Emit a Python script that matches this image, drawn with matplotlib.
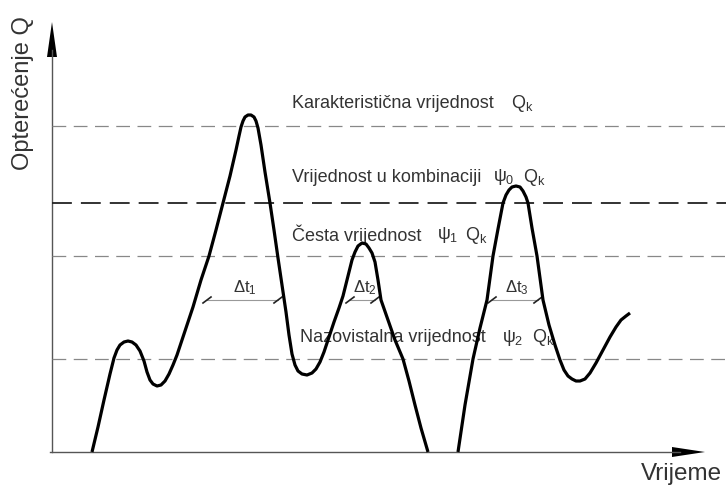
import matplotlib
matplotlib.use('Agg')
import matplotlib.pyplot as plt

plt.rcParams['font.family'] = ['Liberation Sans', 'DejaVu Sans']
plt.rcParams['mathtext.fontset'] = 'custom'
plt.rcParams['mathtext.rm'] = 'Liberation Sans'
plt.rcParams['mathtext.it'] = 'Liberation Sans'
plt.rcParams['mathtext.bf'] = 'Liberation Sans:bold'

# load history Q(t) (pixel units, y grows downward)
# first part: from the time axis up to where it dips below it again
part1_x = [92, 98, 104, 110, 114, 117, 120, 124, 128, 132, 136, 140, 144, 147, 150,
           153, 157, 161, 165, 169, 173, 177, 184, 193, 201, 209, 216, 223, 230,
           236, 239, 241, 243, 245, 248, 251, 254, 256, 258, 261, 265, 270, 274,
           278, 282, 286, 289, 292, 295, 298, 302, 307, 312, 316, 320, 324, 329,
           334, 339, 343, 346, 349, 352, 355, 358, 362, 366, 369, 372, 375, 378,
           381, 388, 395, 403, 409, 415, 421, 428]
part1_y = [452, 427, 400, 374, 358, 350, 345, 342, 341, 342, 345, 351, 361, 372, 380,
           384, 386, 385, 381, 374, 365, 355, 334, 307, 280, 256, 230, 203, 176,
           150, 136, 127, 121, 117, 115, 115, 117, 121, 128, 145, 172, 203, 230,
           258, 285, 312, 335, 354, 365, 371, 374, 375, 373, 369, 362, 352, 337,
           322, 308, 296, 284, 272, 260, 252, 246, 243, 244, 248, 253, 262, 280,
           300, 320, 340, 359, 381, 405, 428, 452]
# second part: re-enters above the axis
part2_x = [458, 465, 473, 480, 487, 493, 498, 503, 506, 509, 512, 516, 520, 523, 526,
           528, 532, 537, 543, 549, 555, 560, 564, 568, 572, 576, 580, 585, 590,
           596, 603, 610, 616, 621, 626, 630]
part2_y = [452, 405, 359, 328, 300, 256, 229, 203, 195, 190, 187, 186, 187, 191, 197,
           203, 228, 256, 300, 325, 345, 360, 370, 376, 379, 381, 381, 379, 373,
           363, 350, 337, 327, 320, 316, 313]

# reference levels
level_y = [126, 203, 256, 359]
level_name = ['Karakteristična vrijednost', 'Vrijednost u kombinaciji',
              'Česta vrijednost', 'Nazovistalna vrijednost']
level_psi = ['', r'$\psi_0$', r'$\psi_1$', r'$\psi_2$']

# durations Delta t (left end, right end) at the same height
dt_left = [207, 350, 492]
dt_right = [278, 375, 538]
dt_label = [r'$\Delta\mathrm{t}_1$', r'$\Delta\mathrm{t}_2$', r'$\Delta\mathrm{t}_3$']

fig = plt.figure(figsize=(7.26, 4.91), dpi=100)
ax = fig.add_axes([0, 0, 1, 1])
ax.set_xlim(0, 726)
ax.set_ylim(491, 0)
ax.axis('off')

# axes with arrows
ax.plot([52, 52], [452, 50], color='#555555', lw=1.0)
ax.plot([50, 680], [452, 452], color='#555555', lw=1.0)
ax.fill([47, 57, 52], [57, 57, 22], color='black', lw=0)
ax.fill([672, 672, 705], [447, 457, 452], color='black', lw=0)

# dashed levels
for i, y in enumerate(level_y):
    if i == 1:
        ax.plot([52, 726], [y, y], color='#222222', lw=1.3, dashes=(11, 5))
    else:
        ax.plot([52, 726], [y, y], color='#888888', lw=0.9, dashes=(11, 6))

# curve
for cx, cy in ((part1_x, part1_y), (part2_x, part2_y)):
    ax.plot(cx, cy, color='black', lw=2.3, solid_joinstyle='round',
            solid_capstyle='butt', zorder=5)

# Delta t dimension lines
dim_y = 300
for x0, x1, lab in zip(dt_left, dt_right, dt_label):
    ax.plot([x0, x1], [dim_y, dim_y], color='#999999', lw=0.8)
    for xx in (x0, x1):
        ax.plot([xx - 4, xx + 4], [dim_y + 3, dim_y - 3], color='#222222', lw=1.2)
    ax.text((x0 + x1) / 2 + 2, dim_y - 12, lab, fontsize=12, color='#333333',
            ha='center', va='center')

# texts
txt_kw = dict(fontsize=13, color='#333333', va='center', ha='left')
qk = r'$\mathrm{Q}_\mathrm{k}$'
ax.text(292, 103, level_name[0], **txt_kw)
ax.text(511, 103, qk, **txt_kw)
ax.text(292, 177, level_name[1], **txt_kw)
ax.text(493, 177, level_psi[1], **txt_kw)
ax.text(523, 177, qk, **txt_kw)
ax.text(292, 235, level_name[2], **txt_kw)
ax.text(437, 235, level_psi[2], **txt_kw)
ax.text(465, 235, qk, **txt_kw)
ax.text(300, 338, level_name[3], **txt_kw)
ax.text(502, 338, level_psi[3], **txt_kw)
ax.text(532, 338, qk, **txt_kw)

ax.text(23, 93, 'Opterećenje Q', fontsize=17, color='#333333', rotation=90,
        ha='center', va='center')
ax.text(722, 474, 'Vrijeme', fontsize=17.5, color='#333333', ha='right', va='center')

fig.savefig('out.png', dpi=100)
